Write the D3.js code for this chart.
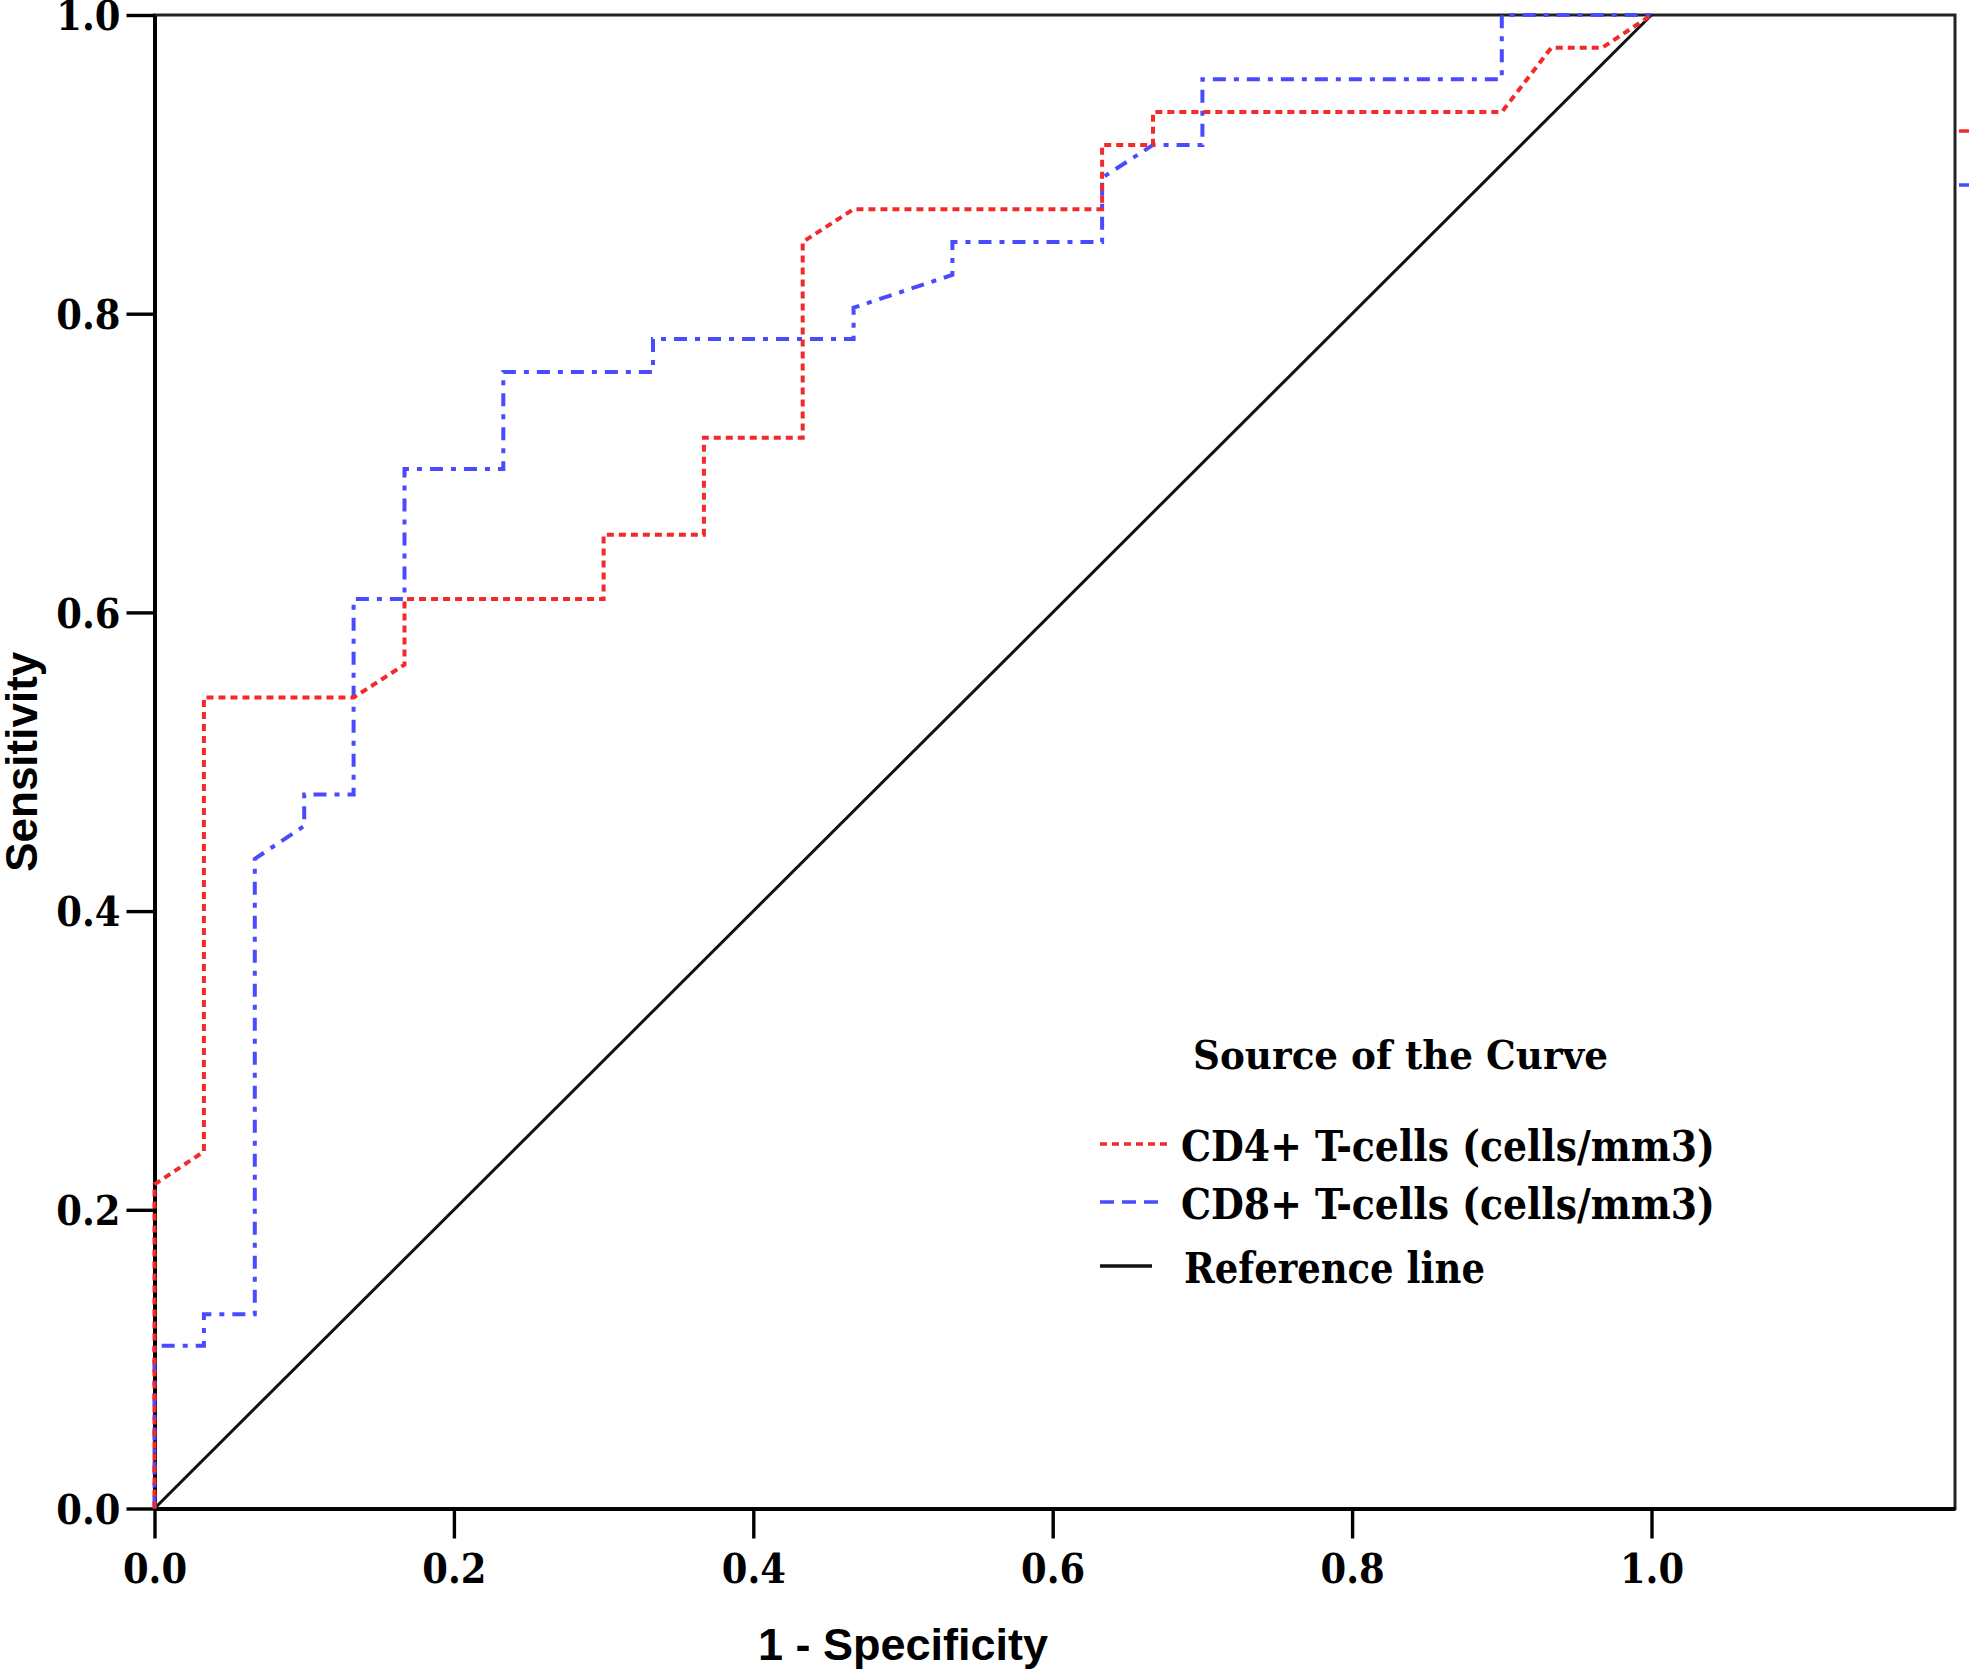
<!DOCTYPE html>
<html>
<head>
<meta charset="utf-8">
<script src="https://cdn.jsdelivr.net/npm/d3@7"></script>
<style>
  body { margin: 0; background: #fff; }
  svg { display: block; }
</style>
</head>
<body>
<div id="chart"></div>
<script>
// ROC curve points (1 - specificity, sensitivity)
var cd4X = [0, 0, 0.033, 0.033, 0.133, 0.167, 0.167, 0.300, 0.300, 0.367, 0.367, 0.433, 0.433, 0.467,
            0.633, 0.633, 0.667, 0.667, 0.900, 0.933, 0.967, 1.000];
var cd4Y = [0, 0.217, 0.239, 0.543, 0.543, 0.565, 0.609, 0.609, 0.652, 0.652, 0.717, 0.717, 0.848, 0.870,
            0.870, 0.913, 0.913, 0.935, 0.935, 0.978, 0.978, 1.000];

var cd8X = [0, 0, 0.033, 0.033, 0.067, 0.067, 0.100, 0.100, 0.133, 0.133, 0.167, 0.167, 0.233, 0.233,
            0.333, 0.333, 0.467, 0.467, 0.533, 0.533, 0.633, 0.633, 0.667, 0.700, 0.700, 0.900, 0.900, 1.000];
var cd8Y = [0, 0.109, 0.109, 0.130, 0.130, 0.435, 0.457, 0.478, 0.478, 0.609, 0.609, 0.696, 0.696, 0.761,
            0.761, 0.783, 0.783, 0.804, 0.826, 0.848, 0.848, 0.891, 0.913, 0.913, 0.957, 0.957, 1.000, 1.000];

var refX = [0, 1];
var refY = [0, 1];

var tickVals = [0, 0.2, 0.4, 0.6, 0.8, 1.0];
var seriesNames = ["CD4+ T-cells (cells/mm3)", "CD8+ T-cells (cells/mm3)", "Reference line"];

var W = 1969, H = 1675;
var mLeft = 154.5, mTop = 15, mBottom = 1508.5, mRight = 1955;
var unit = 1497;          // pixels per 1.0 on x

var x = d3.scaleLinear().domain([0, (mRight - mLeft) / unit]).range([mLeft, mRight]);
var y = d3.scaleLinear().domain([0, 1]).range([mBottom, mTop]);

var svg = d3.select("#chart").append("svg")
    .attr("width", W).attr("height", H);

var serif = "'DejaVu Serif Condensed', 'DejaVu Serif', serif";
var sans = "'Liberation Sans', Arial, sans-serif";

// frame (top + right)
svg.append("rect")
    .attr("x", x(0)).attr("y", y(1))
    .attr("width", mRight - x(0)).attr("height", y(0) - y(1))
    .attr("fill", "none").attr("stroke", "#222").attr("stroke-width", 3);

// axes
var yAxis = svg.append("g")
    .attr("transform", "translate(" + x(0) + ",0)")
    .call(d3.axisLeft(y).tickValues(tickVals).tickFormat(d3.format(".1f"))
          .tickSize(28).tickSizeOuter(0).tickPadding(6));
var xAxis = svg.append("g")
    .attr("transform", "translate(0," + y(0) + ")")
    .call(d3.axisBottom(x).tickValues(tickVals).tickFormat(d3.format(".1f"))
          .tickSize(30).tickSizeOuter(0).tickPadding(15));

[yAxis, xAxis].forEach(function(g) {
  g.attr("font-size", null).attr("font-family", null);
  g.select(".domain").attr("stroke", "#000").attr("stroke-width", 4);
  g.selectAll(".tick line").attr("stroke", "#000").attr("stroke-width", 3.4);
  g.selectAll(".tick text")
    .attr("fill", "#000")
    .style("font-family", serif)
    .style("font-weight", "bold")
    .style("font-size", "41px");
});
yAxis.selectAll(".tick text").attr("dy", "0.36em");

// axis titles
svg.append("text")
    .attr("x", x(0.5)).attr("y", 1660)
    .attr("text-anchor", "middle")
    .style("font-family", sans).style("font-weight", "bold").style("font-size", "45px")
    .text("1 - Specificity");

svg.append("text")
    .attr("transform", "translate(37," + y(0.5) + ") rotate(-90)")
    .attr("text-anchor", "middle")
    .style("font-family", sans).style("font-weight", "bold").style("font-size", "44px")
    .text("Sensitivity");

// lines
var line = d3.line()
    .x(function(d) { return x(d[0]); })
    .y(function(d) { return y(d[1]); });

var series = [
  {xs: refX, ys: refY, color: "#111", dash: null, width: 3},
  {xs: cd8X, ys: cd8Y, color: "#4a4aff", dash: "13,8,5,8", width: 4},
  {xs: cd4X, ys: cd4Y, color: "#f22a2a", dash: "7,5", width: 4}
];

svg.append("g").selectAll("path")
  .data(series)
  .enter().append("path")
    .attr("d", function(s) { return line(d3.zip(s.xs, s.ys)); })
    .attr("fill", "none")
    .attr("stroke", function(s) { return s.color; })
    .attr("stroke-width", function(s) { return s.width; })
    .attr("stroke-dasharray", function(s) { return s.dash; });

// little stray marks past the right edge
svg.append("line").attr("x1", 1959).attr("x2", 1969).attr("y1", 131).attr("y2", 131)
    .attr("stroke", "#f22a2a").attr("stroke-width", 3.5);
svg.append("line").attr("x1", 1959).attr("x2", 1969).attr("y1", 185).attr("y2", 185)
    .attr("stroke", "#4a4aff").attr("stroke-width", 3.5);

// legend
var leg = svg.append("g");
leg.append("text")
    .attr("x", 1193).attr("y", 1069)
    .style("font-family", serif).style("font-weight", "bold").style("font-size", "40px")
    .attr("textLength", 415).attr("lengthAdjust", "spacingAndGlyphs")
    .text("Source of the Curve");

var legItems = [
  {name: seriesNames[0], color: "#f22a2a", dash: "7,5", y: 1144, len: 534, x2: 1168},
  {name: seriesNames[1], color: "#4a4aff", dash: "14,8", y: 1202, len: 534, x2: 1160},
  {name: seriesNames[2], color: "#111", dash: null, y: 1266, len: 301, x2: 1152}
];

var li = leg.selectAll("g.item").data(legItems).enter().append("g").attr("class", "item");
li.append("line")
    .attr("x1", 1100).attr("x2", function(d) { return d.x2; })
    .attr("y1", function(d) { return d.y; }).attr("y2", function(d) { return d.y; })
    .attr("stroke", function(d) { return d.color; })
    .attr("stroke-width", 3.6)
    .attr("stroke-dasharray", function(d) { return d.dash; });
li.append("text")
    .attr("x", function(d, i) { return i == 2 ? 1184 : 1181; })
    .attr("y", function(d) { return d.y + 17; })
    .style("font-family", serif).style("font-weight", "bold").style("font-size", "43px")
    .attr("textLength", function(d) { return d.len; }).attr("lengthAdjust", "spacingAndGlyphs")
    .text(function(d) { return d.name; });
</script>
</body>
</html>
